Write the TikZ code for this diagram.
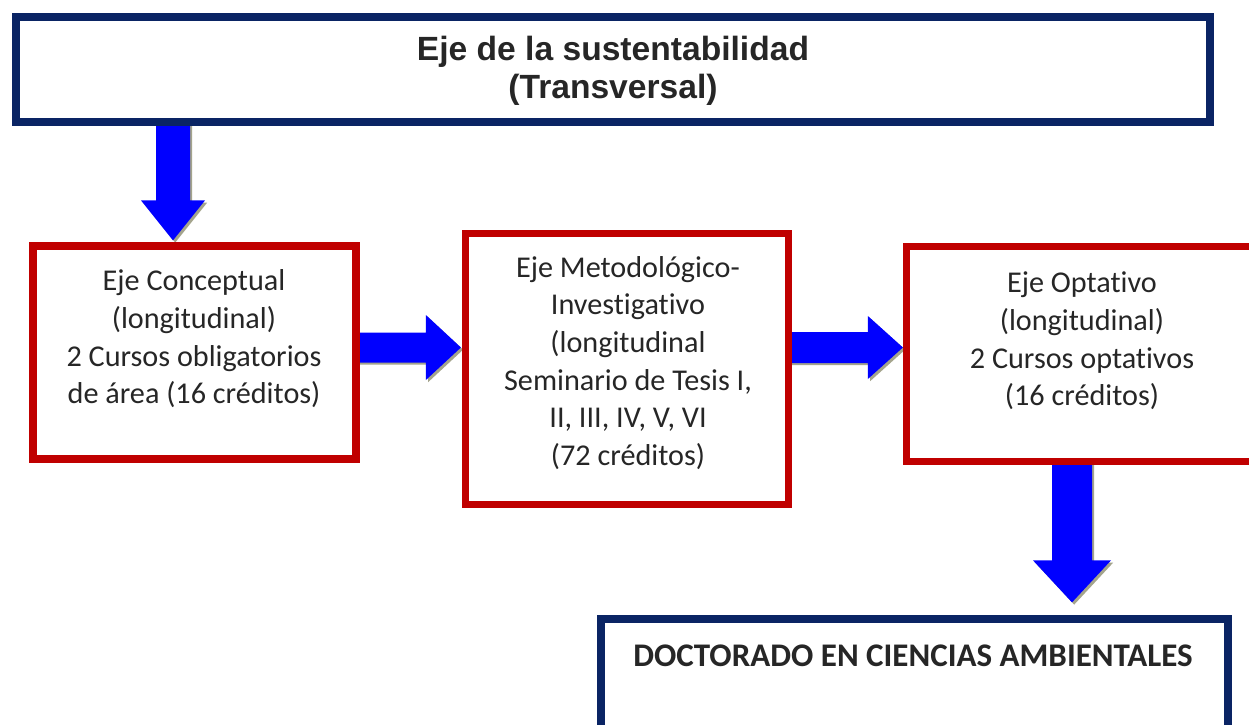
\documentclass[tikz,border=0pt]{standalone}
\usepackage{fontspec}
\setmainfont{Carlito}[Ligatures=NoCommon]
\newfontfamily\arialfont{Liberation Sans}
\usetikzlibrary{calc,backgrounds}
\definecolor{navyb}{HTML}{0A2464}
\definecolor{redb}{HTML}{C00000}
\definecolor{arrowblue}{HTML}{0000FF}
\definecolor{shadowc}{HTML}{A4A48C}
\definecolor{textc}{HTML}{262626}
% block arrow pointing down: #1 start, #2 tip, #3 shaft half width, #4 head half width, #5 head length
\newcommand\blockD[5]{%
  \fill[shadowc,transform canvas={shift={(1.1pt,-1.1pt)}}] ($(#1)+(-#3,0)$) -- ($(#2)+(-#3,-#5)$) -- ($(#2)+(-#4,-#5)$) -- (#2) -- ($(#2)+(#4,-#5)$) -- ($(#2)+(#3,-#5)$) -- ($(#1)+(#3,0)$) -- cycle;
  \fill[arrowblue] ($(#1)+(-#3,0)$) -- ($(#2)+(-#3,-#5)$) -- ($(#2)+(-#4,-#5)$) -- (#2) -- ($(#2)+(#4,-#5)$) -- ($(#2)+(#3,-#5)$) -- ($(#1)+(#3,0)$) -- cycle;}
% block arrow pointing right
\newcommand\blockR[5]{%
  \fill[shadowc,transform canvas={shift={(1.1pt,-1.1pt)}}] ($(#1)+(0,-#3)$) -- ($(#2)+(-#5,-#3)$) -- ($(#2)+(-#5,-#4)$) -- (#2) -- ($(#2)+(-#5,#4)$) -- ($(#2)+(-#5,#3)$) -- ($(#1)+(0,#3)$) -- cycle;
  \fill[arrowblue] ($(#1)+(0,-#3)$) -- ($(#2)+(-#5,-#3)$) -- ($(#2)+(-#5,-#4)$) -- (#2) -- ($(#2)+(-#5,#4)$) -- ($(#2)+(-#5,#3)$) -- ($(#1)+(0,#3)$) -- cycle;}
\begin{document}
\begin{tikzpicture}[x=0.5pt,y=-0.5pt,
  boxbase/.style={rectangle,inner sep=0pt,line width=3.6pt,fill=white},
  navybox/.style={boxbase,draw=navyb},
  redbox/.style={boxbase,draw=redb},
  txt/.style={align=center,text=textc,font=\fontsize{15.1}{18.8}\selectfont}]
\useasboundingbox (0,0) rectangle (1249,724);
\clip (0,0) rectangle (1249,724);
% boxes
\node[navybox,minimum width=597pt,minimum height=52.5pt] (top) at (613,69.5) {};
\node[redbox,minimum width=161.5pt,minimum height=106.5pt] (concept) at (194.5,352.5) {};
\node[redbox,minimum width=161.5pt,minimum height=135.5pt] (metod) at (627,369) {};
\node[redbox,minimum width=175.5pt,minimum height=107.5pt] (opt) at (1082,354) {};
\node[navybox,minimum width=313.5pt,minimum height=60pt] (bottom) at (914.5,679) {};
% texts
\node[align=center,text=textc,font=\arialfont\bfseries\fontsize{16.8}{19}\selectfont] (ttop) at (613,71) {Eje de la sustentabilidad\\(Transversal)};
\node[txt] (tconcept) at (194,339) {Eje Conceptual\\(longitudinal)\\2 Cursos obligatorios\\de área (16 créditos)};
\node[txt] (tmetod) at (628,363) {Eje Metodológico-\\Investigativo\\(longitudinal\\Seminario de Tesis I,\\II, III, IV, V, VI\\(72 créditos)};
\node[txt] (topt) at (1082,341) {Eje Optativo\\(longitudinal)\\2 Cursos optativos\\(16 créditos)};
\node[text=textc,font=\bfseries\fontsize{16.5}{20}\selectfont] (tbot) at (913,656) {DOCTORADO EN CIENCIAS AMBIENTALES};
% arrow guide coordinates
\coordinate (col1) at (173,0);
\coordinate (col2) at (1072,0);
\coordinate (row) at (0,347.5);
\coordinate (d1s) at (col1 |- top.center);
\coordinate (d1t) at ($(col1 |- concept.north)+(0,-2)$);
\coordinate (r1s) at (concept.center |- row);
\coordinate (r1t) at ($(metod.west |- row)+(-1,0)$);
\coordinate (r2s) at (metod.center |- row);
\coordinate (r2t) at (opt.west |- row);
\coordinate (d2s) at (col2 |- opt.center);
\coordinate (d2t) at ($(col2 |- bottom.north)+(0,-13)$);
\begin{pgfonlayer}{background}
\fill[white] (0,0) rectangle (1249,724);
\blockD{d1s}{d1t}{17}{32}{40}
\blockR{r1s}{r1t}{15}{32.5}{35}
\blockR{r2s}{r2t}{15.5}{31.5}{35}
\blockD{d2s}{d2t}{20}{39}{42}
\end{pgfonlayer}
\end{tikzpicture}
\end{document}
